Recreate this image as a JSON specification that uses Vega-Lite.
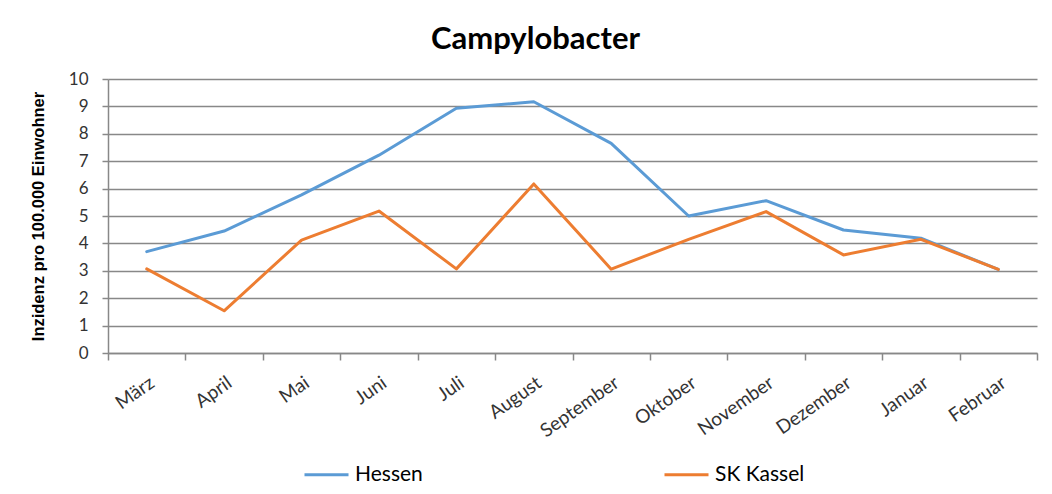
{
  "$schema": "https://vega.github.io/schema/vega-lite/v6.json",
  "width": 929,
  "height": 274,
  "autosize": "none",
  "padding": {"left": 108, "top": 79, "right": 15, "bottom": 141},
  "background": "white",
  "title": {
    "text": "Campylobacter",
    "font": "Lato",
    "fontSize": 31,
    "fontWeight": "bold",
    "color": "#000000",
    "anchor": "middle",
    "dx": -37,
    "offset": 14
  },
  "data": {
    "values": [
      {"Monat": "März", "Region": "Hessen", "Wert": 3.70},
      {"Monat": "April", "Region": "Hessen", "Wert": 4.45},
      {"Monat": "Mai", "Region": "Hessen", "Wert": 5.77},
      {"Monat": "Juni", "Region": "Hessen", "Wert": 7.22},
      {"Monat": "Juli", "Region": "Hessen", "Wert": 8.93},
      {"Monat": "August", "Region": "Hessen", "Wert": 9.17},
      {"Monat": "September", "Region": "Hessen", "Wert": 7.65},
      {"Monat": "Oktober", "Region": "Hessen", "Wert": 5.00},
      {"Monat": "November", "Region": "Hessen", "Wert": 5.56},
      {"Monat": "Dezember", "Region": "Hessen", "Wert": 4.49},
      {"Monat": "Januar", "Region": "Hessen", "Wert": 4.19},
      {"Monat": "Februar", "Region": "Hessen", "Wert": 3.05},
      {"Monat": "März", "Region": "SK Kassel", "Wert": 3.07},
      {"Monat": "April", "Region": "SK Kassel", "Wert": 1.54},
      {"Monat": "Mai", "Region": "SK Kassel", "Wert": 4.12},
      {"Monat": "Juni", "Region": "SK Kassel", "Wert": 5.18},
      {"Monat": "Juli", "Region": "SK Kassel", "Wert": 3.07},
      {"Monat": "August", "Region": "SK Kassel", "Wert": 6.17},
      {"Monat": "September", "Region": "SK Kassel", "Wert": 3.06},
      {"Monat": "Oktober", "Region": "SK Kassel", "Wert": 4.15},
      {"Monat": "November", "Region": "SK Kassel", "Wert": 5.16},
      {"Monat": "Dezember", "Region": "SK Kassel", "Wert": 3.58},
      {"Monat": "Januar", "Region": "SK Kassel", "Wert": 4.15},
      {"Monat": "Februar", "Region": "SK Kassel", "Wert": 3.05}
    ]
  },
  "mark": {"type": "line", "strokeWidth": 3, "strokeCap": "round", "strokeJoin": "round"},
  "encoding": {
    "x": {
      "field": "Monat",
      "type": "ordinal",
      "sort": null,
      "bandPosition": 0.5,
      "scale": {"type": "band", "paddingInner": 0, "paddingOuter": 0},
      "axis": {
        "title": null,
        "tickBand": "extent",
        "labelAngle": -35,
        "labelFont": "Lato",
        "labelFontSize": 19,
        "labelColor": "#333333",
        "labelPadding": 13,
        "tickSize": 7,
        "tickColor": "#888888",
        "tickWidth": 1.5,
        "domainColor": "#888888",
        "domainWidth": 1.5,
        "grid": false
      }
    },
    "y": {
      "field": "Wert",
      "type": "quantitative",
      "scale": {"domain": [0, 10], "nice": false},
      "axis": {
        "title": "Inzidenz pro 100.000 Einwohner",
        "titleFont": "Liberation Sans",
        "titleFontSize": 16.5,
        "titleFontWeight": "bold",
        "titleColor": "#000000",
        "titlePadding": 22,
        "values": [0, 1, 2, 3, 4, 5, 6, 7, 8, 9, 10],
        "labelFont": "Lato",
        "labelFontSize": 17,
        "labelColor": "#333333",
        "labelPadding": 14,
        "tickSize": 6,
        "tickColor": "#888888",
        "tickWidth": 1.5,
        "domainColor": "#888888",
        "domainWidth": 1.5,
        "gridColor": "#888888",
        "gridWidth": 1.5
      }
    },
    "color": {
      "field": "Region",
      "type": "nominal",
      "scale": {"domain": ["Hessen", "SK Kassel"], "range": ["#5B9BD5", "#ED7D31"]},
      "legend": {
        "title": null,
        "orient": "none",
        "direction": "horizontal",
        "columns": 2,
        "legendX": 195,
        "legendY": 372,
        "padding": 0,
        "columnPadding": 235,
        "symbolType": "stroke",
        "symbolSize": 1936,
        "symbolStrokeWidth": 3,
        "labelFont": "Lato",
        "labelFontSize": 21,
        "labelColor": "#000000",
        "labelOffset": 5
      }
    }
  },
  "config": {
    "view": {"stroke": null}
  }
}
